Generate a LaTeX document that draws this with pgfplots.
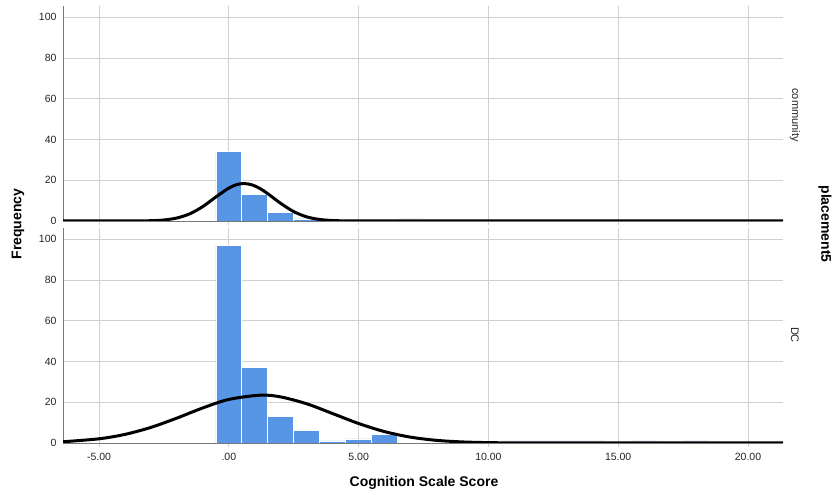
\documentclass[border=0pt]{standalone}
\usepackage{fontspec}
\setmainfont{Liberation Sans}
\usepackage{pgfplots}
\pgfplotsset{compat=1.18}
\definecolor{barblue}{RGB}{86,150,229}
\definecolor{gridgray}{RGB}{208,208,208}
\definecolor{axisgray}{RGB}{120,120,120}
\definecolor{txt}{RGB}{35,35,35}

\pgfplotsset{
  panel/.style={
    scale only axis,
    width=720pt, height=215pt,
    xmin=-6.39, xmax=21.35,
    ymin=0, ymax=105.5,
    axis x line*=bottom, axis y line*=left,
    axis line style={axisgray, line width=0.8pt},
    xtick={-5,0,5,10,15,20},
    ytick={0,20,40,60,80,100},
    grid=major,
    major grid style={gridgray, line width=0.9pt},
    tick align=outside,
    major tick length=4pt,
    xtick style={gridgray, line width=0.9pt},
    ytick style={draw=none},
    /pgf/number format/assume math mode=true,
    tick label style={font=\fontsize{10.5}{12}\selectfont, text=txt},
    yticklabel style={xshift=1pt},
    xticklabel style={yshift=-3pt},
  },
  bars/.style={ybar, bar width=1, bar shift=0pt, fill=barblue, draw=white, line width=0.7pt},
  curve/.style={black, line width=3pt, smooth},
}

\begin{document}
\begin{tikzpicture}
\path[use as bounding box] (0,0) rectangle (836pt,495pt);

% community
\begin{axis}[panel, at={(63pt,274pt)}, anchor=south west, xticklabels={}]
\addplot[bars] coordinates {(0,34) (1,13) (2,4) (3,1) (7,1)};
\addplot[curve] coordinates {
(-6.39,0) (-5,0) (-4,0.01) (-3,0.14) (-2.5,0.50) (-2,1.47) (-1.5,3.56) (-1,7.11)
(-0.5,11.79) (0,16.16) (0.3,17.83) (0.585,18.39) (0.9,17.71) (1.2,15.94) (1.5,13.40)
(2,8.63) (2.5,4.60) (3,2.03) (3.5,0.74) (4,0.22) (4.5,0.06) (5,0.01) (6,0) (21.35,0)};
\end{axis}

% DC
\begin{axis}[panel, at={(63pt,52pt)}, anchor=south west,
  xticklabels={-5.00,.00,5.00,10.00,15.00,20.00}]
\addplot[bars] coordinates {(0,97) (1,37) (2,13) (3,6) (4,1) (5,2) (6,4)
  (11,1) (12,1) (13,1) (14,1) (16,1) (18,1)};
\addplot[curve] coordinates {
(-6.39,0.61) (-5,2.06) (-4,4.23) (-3,7.66) (-2,12.23) (-1,17.22) (0,21.38)
(1.22,23.48) (2,22.60) (3,19.24) (4,14.44) (5,9.56) (6,5.58) (7,2.87) (8,1.30)
(9,0.52) (10,0.18) (11,0.06) (12,0.02) (13,0) (21.35,0)};
\end{axis}

\node[font=\bfseries\fontsize{14}{16}\selectfont, text=black] at (424pt,12pt) {Cognition Scale Score};
\node[font=\bfseries\fontsize{14}{16}\selectfont, rotate=90, text=black] at (18pt,271pt) {Frequency};
\node[font=\bfseries\fontsize{14}{16}\selectfont, rotate=-90, text=black] at (825pt,271pt) {placement5};
\node[font=\fontsize{11}{12}\selectfont, rotate=-90, text=txt] at (795pt,380pt) {community};
\node[font=\fontsize{11}{12}\selectfont, rotate=-90, text=txt] at (795pt,160pt) {DC};
\end{tikzpicture}
\end{document}
